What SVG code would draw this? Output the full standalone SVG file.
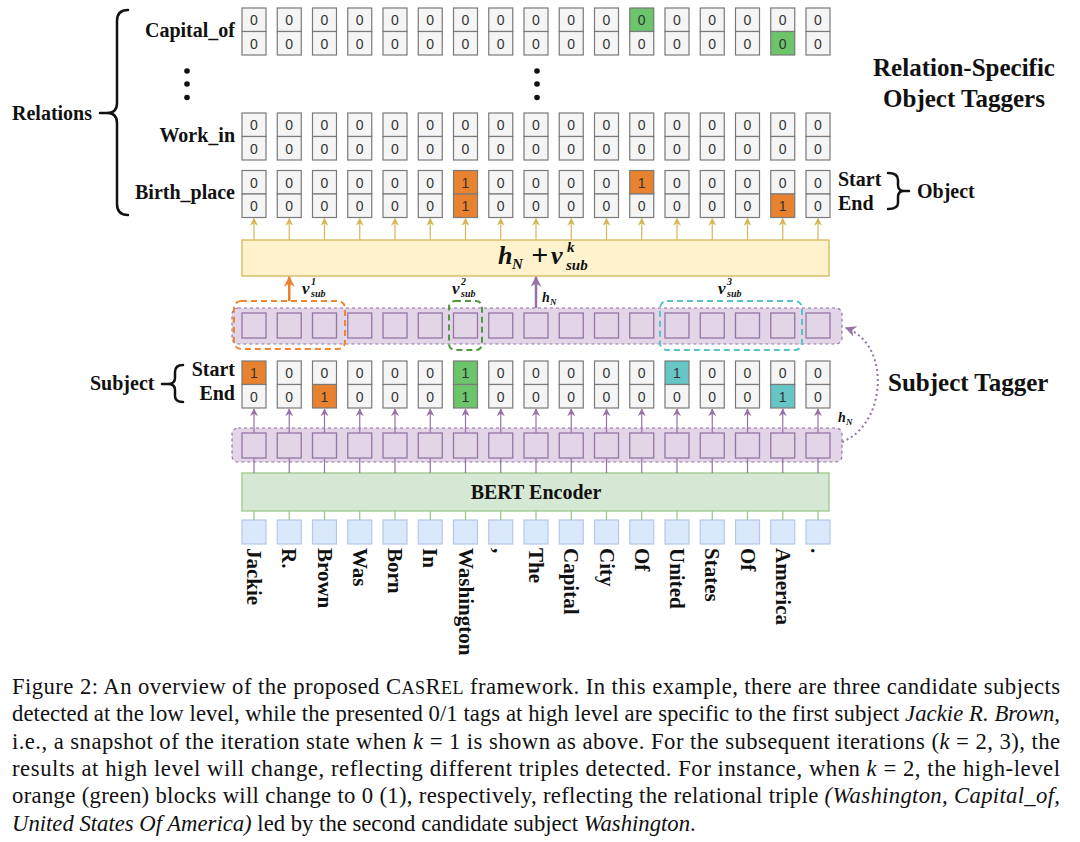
<svg xmlns="http://www.w3.org/2000/svg" xmlns:xlink="http://www.w3.org/1999/xlink" width="1080" height="842" viewBox="0 0 1080 842">
<style>
.cell{fill:#f5f5f5;stroke:#7a7a7a;stroke-width:1.2}
.or{fill:#e8822f}
.gr{fill:#6cc46b}
.cy{fill:#66c6c6}
.d{font-family:"Liberation Sans",Arial,sans-serif;font-size:14px;fill:#333;text-anchor:middle}
.lb{font-family:"Liberation Serif","Times New Roman",serif;font-weight:bold;font-size:20px;fill:#111}
.big{font-family:"Liberation Serif","Times New Roman",serif;font-weight:bold;font-size:25px;fill:#111}
.w{font-family:"Liberation Serif","Times New Roman",serif;font-weight:bold;font-size:21px;fill:#111}
.m{font-family:"Liberation Serif","Times New Roman",serif;font-weight:bold;font-style:italic;fill:#111}
.cap{font-family:"Liberation Serif","Times New Roman",serif;font-size:22.7px;fill:#111}
.sq{fill:#e1d5e7;stroke:#9673a6;stroke-width:1.3}
.band{fill:#e1d5e7;stroke:#9673a6;stroke-width:1.2;stroke-dasharray:3 3}
.tok{fill:#dae8fc;stroke:#b3c8ea;stroke-width:1.2}
.gold{stroke:#d6b656;stroke-width:1.2;fill:none}
.pur{stroke:#9673a6;stroke-width:1.2;fill:none}
.grn{stroke:#97c27f;stroke-width:1.2;fill:none}
.brace{stroke:#111;stroke-width:2.5;fill:none;stroke-linecap:round}
</style>
<defs>
<marker id="ag" viewBox="0 0 10 10" refX="9" refY="5" markerWidth="8" markerHeight="8" orient="auto" markerUnits="userSpaceOnUse"><path d="M0,0 L10,5 L0,10 L3,5 z" fill="#d6b656"/></marker>
<marker id="ap" viewBox="0 0 10 10" refX="9" refY="5" markerWidth="8" markerHeight="8" orient="auto" markerUnits="userSpaceOnUse"><path d="M0,0 L10,5 L0,10 L3,5 z" fill="#9673a6"/></marker>
<marker id="apb" viewBox="0 0 10 10" refX="9" refY="5" markerWidth="11" markerHeight="11" orient="auto" markerUnits="userSpaceOnUse"><path d="M0,0 L10,5 L0,10 L3,5 z" fill="#9673a6"/></marker>
<marker id="ao" viewBox="0 0 10 10" refX="9" refY="5" markerWidth="11" markerHeight="11" orient="auto" markerUnits="userSpaceOnUse"><path d="M0,0 L10,5 L0,10 L3,5 z" fill="#ee7f2d"/></marker>
<g id="p"><rect class="cell" x="-12" y="0" width="24" height="23.5"/><rect class="cell" x="-12" y="23.5" width="24" height="23.5"/><text class="d" x="0" y="17">0</text><text class="d" x="0" y="40.5">0</text></g>
<g id="t"><rect class="cell" x="-12" y="0" width="24" height="23.5"/><text class="d" x="0" y="17">0</text></g>
<g id="b"><rect class="cell" x="-12" y="23.5" width="24" height="23.5"/><text class="d" x="0" y="40.5">0</text></g>
<rect id="sq" class="sq" x="-12" y="0" width="24" height="25"/>
<rect id="tk" class="tok" x="-12" y="0" width="24" height="24"/>
</defs>
<rect width="1080" height="842" fill="#fff"/>

<g id="relations-label">
<text class="lb" x="12" y="120">Relations</text>
<path class="brace" d="M128,10 Q117,10 117,21 L117,103 Q117,113 107,113 L100,113 M107,113 Q117,113 117,123 L117,204 Q117,215 128,215"/>
<circle cx="187" cy="71" r="2.8" fill="#111"/><circle cx="187" cy="84" r="2.8" fill="#111"/><circle cx="187" cy="97.5" r="2.8" fill="#111"/>
<circle cx="537" cy="71" r="2.8" fill="#111"/><circle cx="537" cy="84" r="2.8" fill="#111"/><circle cx="537" cy="97.5" r="2.8" fill="#111"/>
</g>

<g id="row-capital_of">
<text class="lb" x="235" y="37" text-anchor="end">Capital_of</text>
<use href="#p" x="254" y="8"/><use href="#p" x="289.25" y="8"/><use href="#p" x="324.5" y="8"/><use href="#p" x="359.75" y="8"/><use href="#p" x="395" y="8"/><use href="#p" x="430.25" y="8"/><use href="#p" x="465.5" y="8"/><use href="#p" x="500.75" y="8"/><use href="#p" x="536" y="8"/><use href="#p" x="571.25" y="8"/><use href="#p" x="606.5" y="8"/>
<rect class="cell gr" x="629.75" y="8" width="24" height="23.5"/><text class="d" x="641.75" y="25">0</text><use href="#b" x="641.75" y="8"/>
<use href="#p" x="677" y="8"/><use href="#p" x="712.25" y="8"/><use href="#p" x="747.5" y="8"/>
<use href="#t" x="782.75" y="8"/><rect class="cell gr" x="770.75" y="31.5" width="24" height="23.5"/><text class="d" x="782.75" y="48.5">0</text>
<use href="#p" x="818" y="8"/>
</g>

<g id="row-work_in">
<text class="lb" x="235" y="142" text-anchor="end">Work_in</text>
<use href="#p" x="254" y="113"/><use href="#p" x="289.25" y="113"/><use href="#p" x="324.5" y="113"/><use href="#p" x="359.75" y="113"/><use href="#p" x="395" y="113"/><use href="#p" x="430.25" y="113"/><use href="#p" x="465.5" y="113"/><use href="#p" x="500.75" y="113"/><use href="#p" x="536" y="113"/><use href="#p" x="571.25" y="113"/><use href="#p" x="606.5" y="113"/><use href="#p" x="641.75" y="113"/><use href="#p" x="677" y="113"/><use href="#p" x="712.25" y="113"/><use href="#p" x="747.5" y="113"/><use href="#p" x="782.75" y="113"/><use href="#p" x="818" y="113"/>
</g>

<g id="row-birth_place">
<text class="lb" x="235" y="199" text-anchor="end">Birth_place</text>
<use href="#p" x="254" y="170.5"/><use href="#p" x="289.25" y="170.5"/><use href="#p" x="324.5" y="170.5"/><use href="#p" x="359.75" y="170.5"/><use href="#p" x="395" y="170.5"/><use href="#p" x="430.25" y="170.5"/>
<rect class="cell or" x="453.5" y="170.5" width="24" height="23.5"/><text class="d" x="465.5" y="187.5">1</text>
<rect class="cell or" x="453.5" y="194" width="24" height="23.5"/><text class="d" x="465.5" y="211">1</text>
<use href="#p" x="500.75" y="170.5"/><use href="#p" x="536" y="170.5"/><use href="#p" x="571.25" y="170.5"/><use href="#p" x="606.5" y="170.5"/>
<rect class="cell or" x="629.75" y="170.5" width="24" height="23.5"/><text class="d" x="641.75" y="187.5">1</text><use href="#b" x="641.75" y="170.5"/>
<use href="#p" x="677" y="170.5"/><use href="#p" x="712.25" y="170.5"/><use href="#p" x="747.5" y="170.5"/>
<use href="#t" x="782.75" y="170.5"/><rect class="cell or" x="770.75" y="194" width="24" height="23.5"/><text class="d" x="782.75" y="211">1</text>
<use href="#p" x="818" y="170.5"/>
</g>

<g id="object-label">
<text class="lb" x="838" y="186">Start</text>
<text class="lb" x="838" y="210">End</text>
<path class="brace" d="M888,173 Q898,173 898,180 L898,185 Q898,191 904,191 L909,191 M904,191 Q898,191 898,197 L898,203 Q898,209 888,209"/>
<text class="lb" x="917" y="198">Object</text>
</g>

<g id="title-object-taggers">
<text class="big" x="964" y="76" text-anchor="middle">Relation-Specific</text>
<text class="big" x="964" y="107" text-anchor="middle">Object Taggers</text>
</g>

<g id="box-sum">
<rect x="242" y="240" width="587" height="36" fill="#fff2cc" stroke="#d6b656" stroke-width="1.3"/>
<text class="m" x="498" y="264" font-size="26">h</text>
<text class="m" x="512" y="269" font-size="15">N</text>
<text class="m" x="531" y="265" font-size="30" font-style="normal">+</text>
<text class="m" x="551" y="264" font-size="26">v</text>
<text class="m" x="567" y="252" font-size="15">k</text>
<text class="m" x="566" y="270" font-size="15">sub</text>
</g>

<g id="band-high">
<rect class="band" x="232" y="308" width="610" height="36" rx="6"/>
<use href="#sq" x="254" y="313"/><use href="#sq" x="289.25" y="313"/><use href="#sq" x="324.5" y="313"/><use href="#sq" x="359.75" y="313"/><use href="#sq" x="395" y="313"/><use href="#sq" x="430.25" y="313"/><use href="#sq" x="465.5" y="313"/><use href="#sq" x="500.75" y="313"/><use href="#sq" x="536" y="313"/><use href="#sq" x="571.25" y="313"/><use href="#sq" x="606.5" y="313"/><use href="#sq" x="641.75" y="313"/><use href="#sq" x="677" y="313"/><use href="#sq" x="712.25" y="313"/><use href="#sq" x="747.5" y="313"/><use href="#sq" x="782.75" y="313"/><use href="#sq" x="818" y="313"/>
<rect x="234" y="301" width="111" height="48" rx="7" fill="none" stroke="#f0862f" stroke-width="2" stroke-dasharray="6 4"/>
<rect x="449" y="301" width="33" height="49" rx="6" fill="none" stroke="#4e9a3c" stroke-width="2" stroke-dasharray="6 4"/>
<rect x="660" y="301" width="142" height="49" rx="7" fill="none" stroke="#58c4c8" stroke-width="2" stroke-dasharray="6 4"/>
<text class="m" x="302" y="294" font-size="17">v</text><text class="m" x="311" y="285" font-size="10">1</text><text class="m" x="311" y="297" font-size="10">sub</text>
<text class="m" x="452" y="294" font-size="17">v</text><text class="m" x="461" y="285" font-size="10">2</text><text class="m" x="461" y="297" font-size="10">sub</text>
<text class="m" x="718" y="294" font-size="17">v</text><text class="m" x="727" y="285" font-size="10">3</text><text class="m" x="727" y="297" font-size="10">sub</text>
<text class="m" x="542" y="302" font-size="14">h</text><text class="m" x="550" y="305" font-size="9">N</text>
</g>

<g id="row-subject">
<text class="lb" x="90" y="390">Subject</text>
<path class="brace" d="M183,365 Q175,365 175,372 L175,378 Q175,384 168,384 L162,384 M168,384 Q175,384 175,390 L175,396 Q175,402 183,402"/>
<text class="lb" x="235" y="376" text-anchor="end">Start</text>
<text class="lb" x="235" y="400" text-anchor="end">End</text>
<rect class="cell or" x="242" y="361" width="24" height="23.5"/><text class="d" x="254" y="378">1</text><use href="#b" x="254" y="361"/>
<use href="#p" x="289.25" y="361"/>
<use href="#t" x="324.5" y="361"/><rect class="cell or" x="312.5" y="384.5" width="24" height="23.5"/><text class="d" x="324.5" y="401.5">1</text>
<use href="#p" x="359.75" y="361"/><use href="#p" x="395" y="361"/><use href="#p" x="430.25" y="361"/>
<rect class="cell gr" x="453.5" y="361" width="24" height="23.5"/><text class="d" x="465.5" y="378">1</text>
<rect class="cell gr" x="453.5" y="384.5" width="24" height="23.5"/><text class="d" x="465.5" y="401.5">1</text>
<use href="#p" x="500.75" y="361"/><use href="#p" x="536" y="361"/><use href="#p" x="571.25" y="361"/><use href="#p" x="606.5" y="361"/><use href="#p" x="641.75" y="361"/>
<rect class="cell cy" x="665" y="361" width="24" height="23.5"/><text class="d" x="677" y="378">1</text><use href="#b" x="677" y="361"/>
<use href="#p" x="712.25" y="361"/><use href="#p" x="747.5" y="361"/>
<use href="#t" x="782.75" y="361"/><rect class="cell cy" x="770.75" y="384.5" width="24" height="23.5"/><text class="d" x="782.75" y="401.5">1</text>
<use href="#p" x="818" y="361"/>
</g>

<g id="title-subject-tagger">
<text class="big" x="888" y="391">Subject Tagger</text>
</g>

<g id="band-low">
<rect class="band" x="232" y="428" width="610" height="34" rx="6"/>
<use href="#sq" x="254" y="433"/><use href="#sq" x="289.25" y="433"/><use href="#sq" x="324.5" y="433"/><use href="#sq" x="359.75" y="433"/><use href="#sq" x="395" y="433"/><use href="#sq" x="430.25" y="433"/><use href="#sq" x="465.5" y="433"/><use href="#sq" x="500.75" y="433"/><use href="#sq" x="536" y="433"/><use href="#sq" x="571.25" y="433"/><use href="#sq" x="606.5" y="433"/><use href="#sq" x="641.75" y="433"/><use href="#sq" x="677" y="433"/><use href="#sq" x="712.25" y="433"/><use href="#sq" x="747.5" y="433"/><use href="#sq" x="782.75" y="433"/><use href="#sq" x="818" y="433"/>
<text class="m" x="838" y="422" font-size="14">h</text><text class="m" x="846" y="425" font-size="9">N</text>
</g>

<g id="bert">
<rect x="242" y="473" width="587" height="38" fill="#d5e8d4" stroke="#9cc98a" stroke-width="1.3"/>
<text class="lb" x="536" y="499" text-anchor="middle">BERT Encoder</text>
</g>

<g id="tokens">
<use href="#tk" x="254" y="520"/><use href="#tk" x="289.25" y="520"/><use href="#tk" x="324.5" y="520"/><use href="#tk" x="359.75" y="520"/><use href="#tk" x="395" y="520"/><use href="#tk" x="430.25" y="520"/><use href="#tk" x="465.5" y="520"/><use href="#tk" x="500.75" y="520"/><use href="#tk" x="536" y="520"/><use href="#tk" x="571.25" y="520"/><use href="#tk" x="606.5" y="520"/><use href="#tk" x="641.75" y="520"/><use href="#tk" x="677" y="520"/><use href="#tk" x="712.25" y="520"/><use href="#tk" x="747.5" y="520"/><use href="#tk" x="782.75" y="520"/><use href="#tk" x="818" y="520"/>
<text class="w" transform="translate(247,548) rotate(90)">Jackie</text>
<text class="w" transform="translate(282.25,548) rotate(90)">R.</text>
<text class="w" transform="translate(317.5,548) rotate(90)">Brown</text>
<text class="w" transform="translate(352.75,548) rotate(90)">Was</text>
<text class="w" transform="translate(388,548) rotate(90)">Born</text>
<text class="w" transform="translate(423.25,548) rotate(90)">In</text>
<text class="w" transform="translate(458.5,548) rotate(90)">Washington</text>
<text class="w" transform="translate(493.75,548) rotate(90)">,</text>
<text class="w" transform="translate(529,548) rotate(90)">The</text>
<text class="w" transform="translate(564.25,548) rotate(90)">Capital</text>
<text class="w" transform="translate(599.5,548) rotate(90)">City</text>
<text class="w" transform="translate(634.75,548) rotate(90)">Of</text>
<text class="w" transform="translate(670,548) rotate(90)">United</text>
<text class="w" transform="translate(705.25,548) rotate(90)">States</text>
<text class="w" transform="translate(740.5,548) rotate(90)">Of</text>
<text class="w" transform="translate(775.75,548) rotate(90)">America</text>
<text class="w" transform="translate(811,548) rotate(90)">.</text>
</g>

<g id="connectors">
<g class="gold" marker-end="url(#ag)">
<line x1="254" y1="240" x2="254" y2="218.5"/><line x1="289.25" y1="240" x2="289.25" y2="218.5"/><line x1="324.5" y1="240" x2="324.5" y2="218.5"/><line x1="359.75" y1="240" x2="359.75" y2="218.5"/><line x1="395" y1="240" x2="395" y2="218.5"/><line x1="430.25" y1="240" x2="430.25" y2="218.5"/><line x1="465.5" y1="240" x2="465.5" y2="218.5"/><line x1="500.75" y1="240" x2="500.75" y2="218.5"/><line x1="536" y1="240" x2="536" y2="218.5"/><line x1="571.25" y1="240" x2="571.25" y2="218.5"/><line x1="606.5" y1="240" x2="606.5" y2="218.5"/><line x1="641.75" y1="240" x2="641.75" y2="218.5"/><line x1="677" y1="240" x2="677" y2="218.5"/><line x1="712.25" y1="240" x2="712.25" y2="218.5"/><line x1="747.5" y1="240" x2="747.5" y2="218.5"/><line x1="782.75" y1="240" x2="782.75" y2="218.5"/><line x1="818" y1="240" x2="818" y2="218.5"/>
</g>
<g class="pur" marker-end="url(#ap)">
<line x1="254" y1="433" x2="254" y2="409"/><line x1="289.25" y1="433" x2="289.25" y2="409"/><line x1="324.5" y1="433" x2="324.5" y2="409"/><line x1="359.75" y1="433" x2="359.75" y2="409"/><line x1="395" y1="433" x2="395" y2="409"/><line x1="430.25" y1="433" x2="430.25" y2="409"/><line x1="465.5" y1="433" x2="465.5" y2="409"/><line x1="500.75" y1="433" x2="500.75" y2="409"/><line x1="536" y1="433" x2="536" y2="409"/><line x1="571.25" y1="433" x2="571.25" y2="409"/><line x1="606.5" y1="433" x2="606.5" y2="409"/><line x1="641.75" y1="433" x2="641.75" y2="409"/><line x1="677" y1="433" x2="677" y2="409"/><line x1="712.25" y1="433" x2="712.25" y2="409"/><line x1="747.5" y1="433" x2="747.5" y2="409"/><line x1="782.75" y1="433" x2="782.75" y2="409"/><line x1="818" y1="433" x2="818" y2="409"/>
</g>
<path class="pur" d="M254,458V473M289.25,458V473M324.5,458V473M359.75,458V473M395,458V473M430.25,458V473M465.5,458V473M500.75,458V473M536,458V473M571.25,458V473M606.5,458V473M641.75,458V473M677,458V473M712.25,458V473M747.5,458V473M782.75,458V473M818,458V473"/>
<path class="grn" d="M254,511V520M289.25,511V520M324.5,511V520M359.75,511V520M395,511V520M430.25,511V520M465.5,511V520M500.75,511V520M536,511V520M571.25,511V520M606.5,511V520M641.75,511V520M677,511V520M712.25,511V520M747.5,511V520M782.75,511V520M818,511V520"/>
<line x1="289.25" y1="301" x2="289.25" y2="277" stroke="#ee7f2d" stroke-width="2.5" marker-end="url(#ao)"/>
<line x1="536" y1="308" x2="536" y2="277" stroke="#9673a6" stroke-width="2.5" marker-end="url(#apb)"/>
<path d="M842,442 C886,425 892,345 846,328" fill="none" stroke="#9673a6" stroke-width="2" stroke-dasharray="2 3" marker-end="url(#apb)"/>
</g>

<g id="caption" class="cap">
<text x="12" y="694" textLength="1048" lengthAdjust="spacing">Figure 2: An overview of the proposed C<tspan font-size="18">AS</tspan>R<tspan font-size="18">EL</tspan> framework. In this example, there are three candidate subjects</text>
<text x="12" y="721.3" textLength="1048" lengthAdjust="spacing">detected at the low level, while the presented 0/1 tags at high level are specific to the first subject <tspan font-style="italic">Jackie R. Brown</tspan>,</text>
<text x="12" y="748.6" textLength="1048" lengthAdjust="spacing">i.e., a snapshot of the iteration state when <tspan font-style="italic">k</tspan> = 1 is shown as above. For the subsequent iterations (<tspan font-style="italic">k</tspan> = 2, 3), the</text>
<text x="12" y="775.9" textLength="1048" lengthAdjust="spacing">results at high level will change, reflecting different triples detected. For instance, when <tspan font-style="italic">k</tspan> = 2, the high-level</text>
<text x="12" y="803.2" textLength="1048" lengthAdjust="spacing">orange (green) blocks will change to 0 (1), respectively, reflecting the relational triple <tspan font-style="italic">(Washington, Capital_of,</tspan></text>
<text x="12" y="830.5"><tspan font-style="italic">United States Of America)</tspan> led by the second candidate subject <tspan font-style="italic">Washington</tspan>.</text>
</g>
</svg>
